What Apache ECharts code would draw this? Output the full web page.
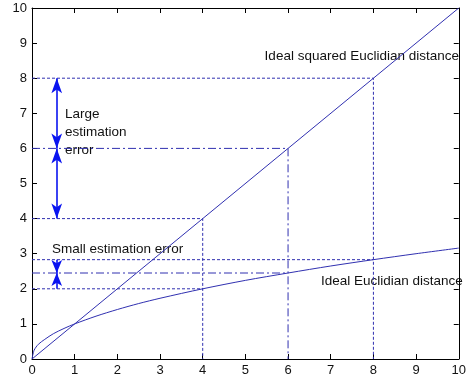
<!DOCTYPE html>
<html>
<head>
<meta charset="utf-8">
<script src="https://cdn.jsdelivr.net/npm/echarts@6/dist/echarts.min.js"></script>
<style>
  html, body { margin: 0; padding: 0; background: #fff; }
  #chart { width: 469px; height: 381px; }
</style>
</head>
<body>
<div id="chart"></div>
<script>
// Ideal squared Euclidian distance (straight line) endpoints
const squaredX = [0, 10];
const squaredY = [0, 10];

// Ideal Euclidian distance curve samples
const euclidX = [0, 0.05, 0.15, 0.3, 0.5, 0.75, 1, 1.5, 2, 2.5, 3, 4, 5, 6, 7, 8, 9, 10];
const euclidY = [0, 0.25, 0.42, 0.56, 0.72, 0.87, 1.0, 1.22, 1.41, 1.58, 1.73, 2.0, 2.24, 2.45, 2.65, 2.83, 3.0, 3.16];

// Guide levels: [x position, squared value, euclidian value, style]
const guideX = [4, 6, 8];
const guideSquared = [4, 6, 8];
const guideEuclid = [2.0, 2.45, 2.83];
const guideStyle = ['dotted', 'dashdot', 'dotted'];

// Error arrows
const arrowX = 0.58;
const largeLevels = [8, 6, 4];
const smallLevels = [2.83, 2.45, 2.0];

const ticks = [0, 1, 2, 3, 4, 5, 6, 7, 8, 9, 10];

const lineColor = '#3030b0';
const arrowColor = '#0a14f0';
const dashPatterns = { dotted: [3, 2], dashdot: [8, 3, 2, 3] };

function pairs(xs, ys) { return xs.map((x, i) => [x, ys[i]]); }

const series = [];

series.push({
  type: 'line', data: pairs(squaredX, squaredY), showSymbol: false,
  lineStyle: { color: lineColor, width: 1 }, z: 5
});
series.push({
  type: 'line', data: pairs(euclidX, euclidY), showSymbol: false, smooth: 0.3,
  lineStyle: { color: lineColor, width: 1 }, z: 5
});

guideX.forEach((gx, i) => {
  const style = { color: lineColor, width: 1, type: dashPatterns[guideStyle[i]] };
  // horizontal to the straight line, then down to the axis
  series.push({
    type: 'line', showSymbol: false, lineStyle: style, z: 3,
    data: [[0, guideSquared[i]], [gx, guideSquared[i]], [gx, 0]]
  });
  // horizontal to the curve
  series.push({
    type: 'line', showSymbol: false, lineStyle: style, z: 3,
    data: [[0, guideEuclid[i]], [gx, guideEuclid[i]]]
  });
});

// Arrow annotations drawn as mark lines
series.push({
  type: 'line', data: [], silent: true,
  markLine: {
    silent: true, animation: false,
    symbol: ['arrow', 'arrow'], symbolSize: [8, 15],
    label: { show: false },
    lineStyle: { color: arrowColor, width: 1.6, type: 'solid' },
    emphasis: { disabled: true },
    data: [
      [{ coord: [arrowX, largeLevels[0]] }, { coord: [arrowX, largeLevels[1]] }],
      [{ coord: [arrowX, largeLevels[1]] }, { coord: [arrowX, largeLevels[2]] }]
    ]
  }
});
series.push({
  type: 'line', data: [], silent: true,
  markLine: {
    silent: true, animation: false,
    symbol: ['none', 'arrow'], symbolSize: [8, 13],
    label: { show: false },
    lineStyle: { color: arrowColor, width: 1.6, type: 'solid' },
    emphasis: { disabled: true },
    data: [
      [{ coord: [arrowX, smallLevels[0]] }, { coord: [arrowX, smallLevels[1]] }],
      [{ coord: [arrowX, smallLevels[2]] }, { coord: [arrowX, smallLevels[1]] }]
    ]
  }
});

const fontName = 'Liberation Sans, Arial, sans-serif';
const labelFont = { fontFamily: fontName, fontSize: 13, color: '#111' };
const annotFont = '13.5px ' + fontName;

function axisCommon(extra) {
  return Object.assign({
    type: 'value', min: 0, max: 10, interval: 1,
    splitLine: { show: false },
    axisLine: { show: true, onZero: false, lineStyle: { color: '#000', width: 1 } },
    axisTick: { show: true, inside: true, length: 5, lineStyle: { color: '#000' } }
  }, extra);
}

const option = {
  animation: false,
  backgroundColor: '#fff',
  grid: { left: 32, right: 6, top: 8, bottom: 22 },
  xAxis: [
    axisCommon({ position: 'bottom', axisLabel: Object.assign({ margin: 5, showMaxLabel: true,
      formatter: v => ticks.includes(v) ? String(v) : '' }, labelFont) }),
    axisCommon({ position: 'top', axisLabel: { show: false } })
  ],
  yAxis: [
    axisCommon({ position: 'left', axisLabel: Object.assign({ margin: 5,
      formatter: v => ticks.includes(v) ? String(v) : '' }, labelFont) }),
    axisCommon({ position: 'right', axisLabel: { show: false } })
  ],
  series: series,
  graphic: [
    { type: 'text', right: 10, top: 49, style: { text: 'Ideal squared Euclidian distance', fill: '#111', font: annotFont } },
    { type: 'text', left: 321, top: 274, style: { text: 'Ideal Euclidian distance', fill: '#111', font: annotFont } },
    { type: 'text', left: 52, top: 242, style: { text: 'Small estimation error', fill: '#111', font: annotFont } },
    { type: 'text', left: 65, top: 105, style: { text: 'Large\nestimation\nerror', fill: '#111', lineHeight: 18, font: annotFont } }
  ]
};

const chart = echarts.init(document.getElementById('chart'), null, { renderer: 'canvas' });
chart.setOption(option);
</script>
</body>
</html>
